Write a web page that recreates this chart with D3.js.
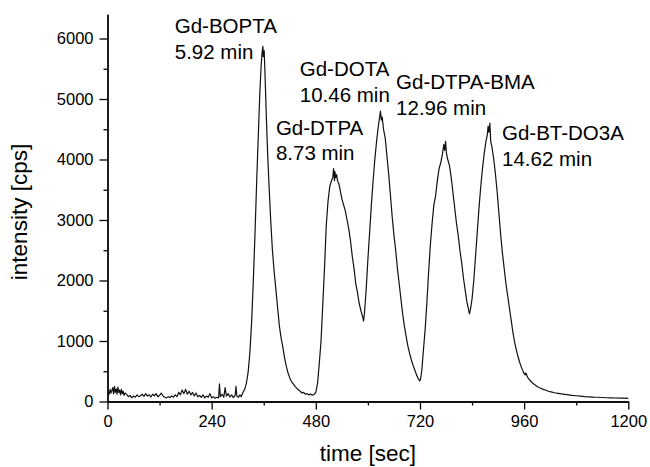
<!DOCTYPE html>
<html>
<head>
<meta charset="utf-8">
<script src="https://cdnjs.cloudflare.com/ajax/libs/d3/7.8.5/d3.min.js"></script>
<style>
  body { margin: 0; background: #fff; }
  svg text { font-family: "Liberation Sans", Arial, Helvetica, sans-serif; fill: #000; }
  .axis path, .axis line { stroke: #000; stroke-width: 1.3; }
</style>
</head>
<body>
<div id="viz"></div>
<script>
// chromatogram (time in sec, intensity in cps)
var time_sec = [
  0, 2, 4, 6, 8, 10, 12, 14, 16, 18, 20, 22, 24, 26, 28, 30, 32, 34, 36, 38, 40, 44, 48, 52, 56, 60, 64, 68, 72, 76,
  80, 84, 88, 92, 96, 100, 104, 108, 112, 116, 120, 124, 128, 132, 136, 140, 144, 148, 152, 156,
  160, 164, 168, 172, 176, 180, 184, 188, 192, 196, 200, 204, 208, 212, 216, 220, 224, 228, 232, 236,
  240, 244, 248, 252, 256, 258, 260, 264, 268, 271, 274, 278, 282, 286, 290, 294, 296, 298, 302, 305,
  308, 312, 316, 320, 324, 328, 332, 336, 340, 344, 348, 351, 354, 356, 358, 359, 361, 363, 366, 369,
  372, 376, 380, 384, 388, 392, 396, 400, 404, 408, 412, 416, 420, 424, 428, 432, 436, 440, 444, 448,
  452, 456, 460, 464, 468, 472, 476, 480, 484, 488, 492, 496, 500, 504, 508, 512, 516, 519, 521, 523,
  524, 526, 528, 530, 533, 536, 540, 544, 548, 552, 556, 560, 564, 568, 572, 576, 580, 584, 588, 590,
  592, 596, 600, 604, 608, 612, 616, 620, 624, 627, 629, 631, 633, 636, 640, 644, 648, 652, 656, 660,
  664, 668, 672, 676, 680, 684, 688, 692, 696, 700, 704, 708, 712, 716, 719, 721, 724, 728, 732, 736,
  740, 744, 748, 752, 756, 760, 764, 768, 772, 775, 777, 779, 781, 784, 788, 792, 796, 800, 804, 808,
  812, 816, 820, 824, 828, 831, 834, 837, 840, 844, 848, 852, 856, 860, 864, 868, 872, 875, 877, 879,
  881, 883, 886, 890, 894, 898, 902, 906, 910, 914, 918, 922, 926, 930, 934, 938, 942, 946, 950, 954,
  958, 962, 964, 968, 972, 976, 980, 986, 992, 998, 1004, 1010, 1016, 1022, 1030, 1038, 1046, 1054, 1062, 1070,
  1080, 1090, 1100, 1110, 1120, 1130, 1140, 1150, 1160, 1170, 1180, 1190, 1200
];
var intensity = [
  90, 160, 120, 200, 140, 180, 230, 130, 250, 150, 210, 120, 240, 150, 190, 110, 200, 130, 170, 100, 140, 120, 80, 100, 60, 90, 70, 110, 80, 95,
  120, 85, 130, 90, 110, 75, 120, 95, 130, 80, 100, 140, 90, 70, 60, 80, 65, 90, 70, 110,
  80, 150, 110, 190, 130, 200, 120, 170, 110, 150, 90, 140, 80, 100, 70, 110, 60, 90, 70, 130,
  60, 80, 55, 70, 60, 290, 80, 120, 70, 230, 90, 130, 75, 110, 65, 100, 250, 90, 70, 110,
  80, 150, 200, 300, 480, 800, 1300, 2000, 2800, 3700, 4500, 5100, 5550, 5750, 5870, 5700, 5800, 5400, 4700, 4100,
  3600, 3000, 2500, 2150, 1850, 1550, 1250, 1050, 900, 720, 580, 470, 390, 330, 290, 250, 220, 190, 170, 140,
  150, 120, 130, 110, 125, 105, 115, 150, 300, 630, 1000, 1600, 2200, 2900, 3300, 3550, 3650, 3700, 3850, 3650,
  3800, 3700, 3750, 3650, 3600, 3500, 3350, 3250, 3150, 3000, 2850, 2650, 2400, 2200, 1950, 1800, 1620, 1500, 1400, 1330,
  1450, 1850, 2350, 2800, 3250, 3650, 4000, 4300, 4550, 4700, 4800, 4650, 4700, 4500, 4350, 4050, 3750, 3400, 3050, 2750,
  2500, 2200, 1950, 1700, 1450, 1250, 1080, 920, 800, 690, 600, 520, 440, 380, 340, 360, 500, 850, 1200, 1650,
  2150, 2600, 2950, 3250, 3400, 3650, 3850, 3950, 4100, 4250, 4150, 4300, 4100, 4000, 3900, 3700, 3450, 3200, 2950, 2750,
  2500, 2300, 2050, 1850, 1650, 1550, 1450, 1550, 1700, 2000, 2400, 2800, 3200, 3550, 3850, 4100, 4300, 4400, 4550, 4450,
  4600, 4300, 4200, 4000, 3750, 3450, 3100, 2750, 2450, 2200, 1950, 1750, 1550, 1350, 1150, 980, 850, 740, 640, 560,
  490, 440, 470, 400, 360, 330, 300, 270, 240, 220, 200, 185, 170, 160, 145, 135, 125, 118, 110, 100,
  95, 88, 82, 78, 72, 70, 66, 62, 60, 58, 56, 55, 52
];

var x_major = [0, 240, 480, 720, 960, 1200];
var x_minor = [120, 360, 600, 840, 1080];
var y_major = [0, 1000, 2000, 3000, 4000, 5000, 6000];
var y_minor = [500, 1500, 2500, 3500, 4500, 5500];

var peak_names = ["Gd-BOPTA", "Gd-DTPA", "Gd-DOTA", "Gd-DTPA-BMA", "Gd-BT-DO3A"];
var peak_times = ["5.92 min", "8.73 min", "10.46 min", "12.96 min", "14.62 min"];
// where each label starts, in data units [sec, cps]
var label_at = [[155, 6090], [388, 4410], [443, 5380], [665, 5160], [909, 4320]];

var width = 650, height = 467;
var svg = d3.select("#viz").append("svg").attr("width", width).attr("height", height);

var x = d3.scaleLinear().domain([0, 1200]).range([107.5, 628.3]);
var y = d3.scaleLinear().domain([0, 6400]).range([401.5, 14.3]);

var data = time_sec.map(function(t, i){ return {t: t, v: intensity[i]}; });
var fmt = d3.format("d");

// axes, major then minor
svg.append("g")
    .attr("class", "axis")
    .attr("transform", "translate(0," + y(0) + ")")
    .call(d3.axisBottom(x).tickValues(x_major).tickFormat(fmt).tickSize(8).tickSizeOuter(0).tickPadding(6))
    .selectAll("text").style("font-size", "16.5px");

svg.append("g")
    .attr("class", "axis")
    .attr("transform", "translate(0," + y(0) + ")")
    .call(d3.axisBottom(x).tickValues(x_minor).tickSize(4).tickSizeOuter(0).tickFormat(""));

svg.append("g")
    .attr("class", "axis")
    .attr("transform", "translate(" + x(0) + ",0)")
    .call(d3.axisLeft(y).tickValues(y_major).tickFormat(fmt).tickSize(8).tickSizeOuter(0).tickPadding(6))
    .selectAll("text").style("font-size", "16.5px");

svg.append("g")
    .attr("class", "axis")
    .attr("transform", "translate(" + x(0) + ",0)")
    .call(d3.axisLeft(y).tickValues(y_minor).tickSize(4).tickSizeOuter(0).tickFormat(""));

svg.selectAll(".axis text").attr("fill", "#000");

// trace
var line = d3.line()
    .x(function(d){ return x(d.t); })
    .y(function(d){ return y(d.v); });

svg.append("path")
    .datum(data)
    .attr("d", line)
    .attr("fill", "none")
    .attr("stroke", "#111")
    .attr("stroke-width", 1.2)
    .attr("stroke-linejoin", "round");

// peak labels
var lab = svg.selectAll(".peak-label")
    .data(peak_names)
    .enter().append("text")
      .attr("class", "peak-label")
      .attr("x", function(d, i){ return x(label_at[i][0]); })
      .attr("y", function(d, i){ return y(label_at[i][1]); })
      .style("font-size", "20.5px");

lab.append("tspan").text(function(d){ return d; });
lab.append("tspan")
    .attr("x", function(d, i){ return x(label_at[i][0]); })
    .attr("dy", 25.5)
    .text(function(d, i){ return peak_times[i]; });

// axis titles
svg.append("text")
    .attr("x", (x(0) + x(1200)) / 2)
    .attr("y", 461)
    .attr("text-anchor", "middle")
    .style("font-size", "22.5px")
    .text("time [sec]");

svg.append("text")
    .attr("transform", "translate(27,212) rotate(-90)")
    .attr("text-anchor", "middle")
    .style("font-size", "22.5px")
    .text("intensity [cps]");
</script>
</body>
</html>
